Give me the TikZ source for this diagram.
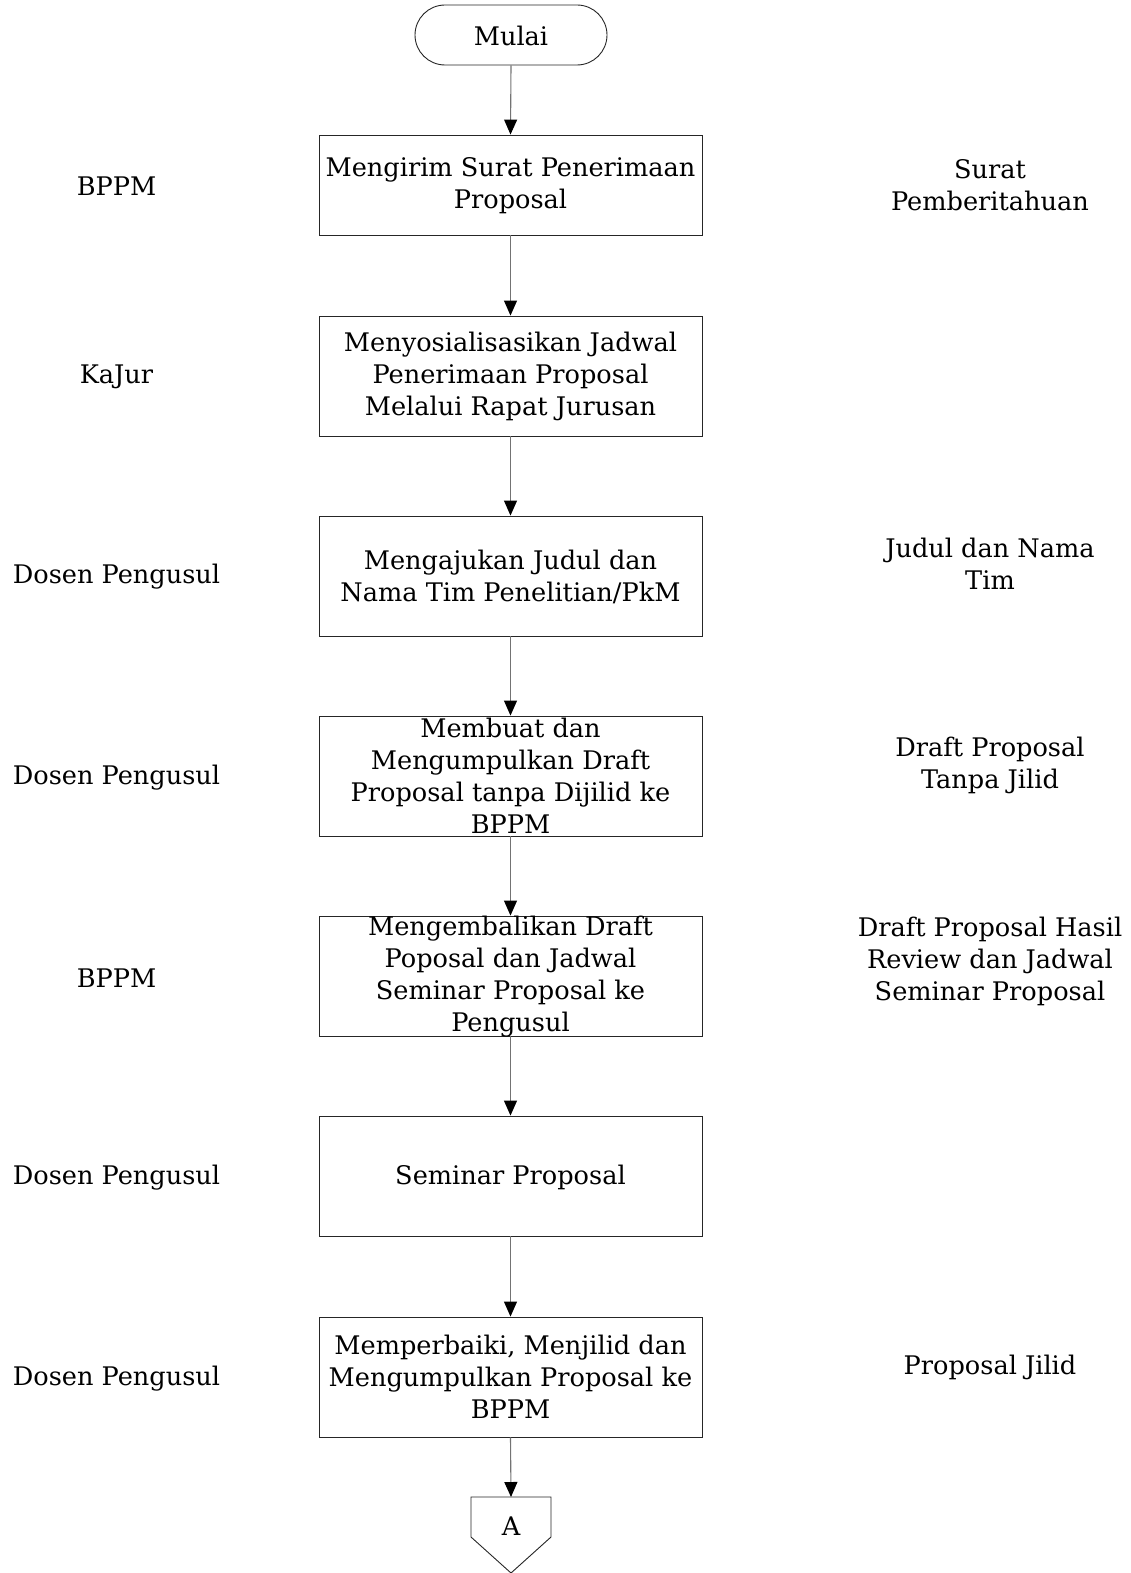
\documentclass[tikz,border=0pt]{standalone}
\usepackage{fontspec}
\setmainfont{DejaVu Serif}
\usetikzlibrary{arrows.meta}
\tikzset{
  box/.style={draw=black!85, line width=0.9pt, minimum width=383pt, minimum height=120pt, inner sep=0pt},
  txt/.style={align=center, font=\fontsize{25.6pt}{32pt}\selectfont, inner sep=0pt, text=black},
  flow/.style={draw=black!55, line width=1.1pt, -{Triangle[width=13pt,length=15pt,color=black]}},
}
\begin{document}
\begin{tikzpicture}[x=1pt,y=-1pt]
\useasboundingbox (0,0) rectangle (1131,1573);
% terminator
\node[draw=black!85, line width=0.9pt, rounded corners=30pt, minimum width=192pt, minimum height=60pt, inner sep=0pt] (start) at (511,35) {};
\node[txt] (tstart) at (511,35.5) {Mulai};
% boxes
\node[box, minimum height=100pt] (b1) at (510.5,185) {};
\node[box] (b2) at (510.5,376) {};
\node[box] (b3) at (510.5,576) {};
\node[box] (b4) at (510.5,776) {};
\node[box] (b5) at (510.5,976) {};
\node[box] (b6) at (510.5,1176) {};
\node[box] (b7) at (510.5,1377) {};
\node[txt] (t1) at (510.5,186) {Mengirim Surat Penerimaan\\Proposal};
\node[txt] (t2) at (510.5,376) {Menyosialisasikan Jadwal\\Penerimaan Proposal\\Melalui Rapat Jurusan};
\node[txt] (t3) at (510.5,577) {Mengajukan Judul dan\\Nama Tim Penelitian/PkM};
\node[txt] (t4) at (510.5,776) {Membuat dan\\Mengumpulkan Draft\\Proposal tanpa Dijilid ke\\BPPM};
\node[txt] (t5) at (510.5,977) {Mengembalikan Draft\\Poposal dan Jadwal\\Seminar Proposal ke\\Pengusul};
\node[txt] (t6) at (510.5,1177) {Seminar Proposal};
\node[txt] (t7) at (510.5,1377) {Memperbaiki, Menjilid dan\\Mengumpulkan Proposal ke\\BPPM};
% off-page connector
\coordinate (Atop) at (511,1497);
\draw[draw=black!85, line width=0.9pt] (471,1497) -- (551,1497) -- (551,1537) -- (511,1573) -- (471,1537) -- cycle;
\node[txt] (A) at (511,1526) {A};
% connectors
\draw[flow] (start.south) -- (b1.north);
\draw[flow] (b1.south) -- (b2.north);
\draw[flow] (b2.south) -- (b3.north);
\draw[flow] (b3.south) -- (b4.north);
\draw[flow] (b4.south) -- (b5.north);
\draw[flow] (b5.south) -- (b6.north);
\draw[flow] (b6.south) -- (b7.north);
\draw[flow] (b7.south) -- (Atop);
% left labels
\node[txt] (l1) at (116.5,186) {BPPM};
\node[txt] (l2) at (116.5,376.5) {KaJur};
\node[txt] (l3) at (116.5,577) {Dosen Pengusul};
\node[txt] (l4) at (116.5,778) {Dosen Pengusul};
\node[txt] (l5) at (116.5,978) {BPPM};
\node[txt] (l6) at (116.5,1178) {Dosen Pengusul};
\node[txt] (l7) at (116.5,1379) {Dosen Pengusul};
% right labels
\node[txt] (r1) at (990,185) {Surat\\Pemberitahuan};
\node[txt] (r3) at (990,564) {Judul dan Nama\\Tim};
\node[txt] (r4) at (990,765) {Draft Proposal\\Tanpa Jilid};
\node[txt] (r5) at (990,961) {Draft Proposal Hasil\\Review dan Jadwal\\Seminar Proposal};
\node[txt] (r7) at (990,1367) {Proposal Jilid};
\end{tikzpicture}
\end{document}
